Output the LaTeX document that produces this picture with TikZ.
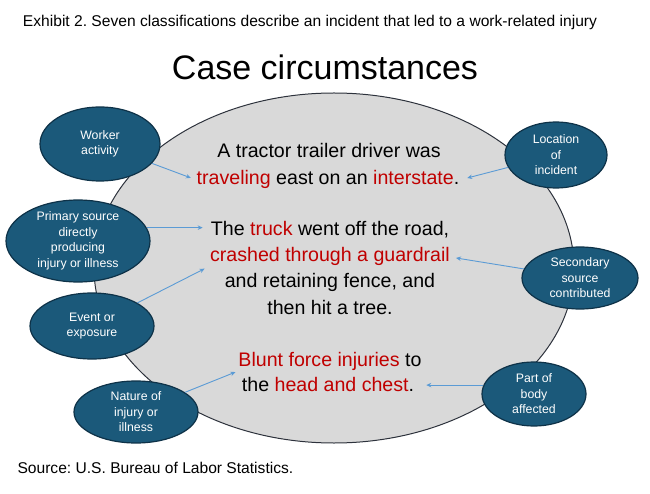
\documentclass[tikz,border=0pt]{standalone}
\usepackage{fontspec}
\setmainfont{Liberation Sans}
\usetikzlibrary{shapes.geometric,arrows.meta}

\definecolor{tagblue}{RGB}{27,89,122}
\definecolor{tagedge}{RGB}{14,50,72}
\definecolor{casegray}{RGB}{217,217,217}
\definecolor{caseedge}{RGB}{45,50,60}
\definecolor{hitred}{RGB}{192,0,0}
\definecolor{pointblue}{RGB}{91,155,213}

\newcommand{\hit}[1]{\textcolor{hitred}{#1}}

\tikzset{
  tag/.style={ellipse, draw=tagedge, line width=1.2pt, fill=tagblue, text=white,
    align=center, inner sep=0pt, font=\fontsize{12.3}{15.5}\selectfont},
  caseline/.style={inner sep=0pt, text height=13.5pt, text depth=4pt,
    font=\fontsize{19.6}{24}\selectfont},
  pointer/.style={pointblue, line width=0.9pt, -{Stealth[length=5pt,width=4.5pt]}},
}

\frenchspacing
\begin{document}
\begin{tikzpicture}[x=1pt,y=-1pt]
\useasboundingbox (0,0) rectangle (650,494);

%% heading
\node (head) at (310,22) {\fontsize{15.6}{18}\selectfont Exhibit 2. Seven classifications describe an incident that led to a work-related injury};
\node (title) at (325,67) {\fontsize{34}{40}\selectfont Case circumstances};

%% the case
\draw[fill=casegray, draw=caseedge, line width=1pt] (334,268) ellipse (240 and 175);

\node[caseline] (l1) at (329,153) {A tractor trailer driver was};
\node[caseline] (l2) at (328,180) {\hit{traveling} east on an \hit{interstate}.};
\node[caseline] (l3) at (330,231) {The \hit{truck} went off the road,};
\node[caseline] (l4) at (330,257) {\hit{crashed through a guardrail}};
\node[caseline] (l5) at (330,283) {and retaining fence, and};
\node[caseline] (l6) at (330,310) {then hit a tree.};
\node[caseline] (l7) at (330,362) {\hit{Blunt force injuries} to};
\node[caseline] (l8) at (328,387) {the \hit{head and chest}.};

%% classifications
\node[tag, minimum width=120pt, minimum height=74pt] (wa)   at (100,144) {Worker\\activity};
\node[tag, minimum width=102pt, minimum height=66pt] (loc)  at (556,155) {Location\\of\\incident};
\node[tag, minimum width=144pt, minimum height=68pt] (ps)   at (78,241)  {Primary source\\directly\\producing\\injury or illness};
\node[tag, minimum width=116pt, minimum height=62pt] (sec)  at (580,278) {Secondary\\source\\contributed};
\node[tag, minimum width=124pt, minimum height=66pt] (ev)   at (92,326)  {Event or\\exposure};
\node[tag, minimum width=104pt, minimum height=64pt] (part) at (534,394) {Part of\\body\\affected};
\node[tag, minimum width=124pt, minimum height=62pt] (nat)  at (136,412) {Nature of\\injury or\\illness};

%% pointers
\draw[pointer, shorten >=6pt] (wa) -- (l2.west);
\draw[pointer, shorten >=8pt] (loc) -- (l2.east);
\draw[pointer, shorten >=8pt] (ps.11) -- (ps.11 -| l3.west);
\draw[pointer, shorten >=6pt] (ev) -- (l4.south west);
\draw[pointer, shorten >=6pt] (sec) -- (l4.east);
\draw[pointer, shorten >=3pt] (nat) -- (l7.south west);
\draw[pointer, shorten >=12pt] (part.170) -- (part.170 -| l8.east);

%% source
\node[anchor=west] (src) at (14,468) {\fontsize{15.6}{18}\selectfont Source: U.S. Bureau of Labor Statistics.};
\end{tikzpicture}
\end{document}
